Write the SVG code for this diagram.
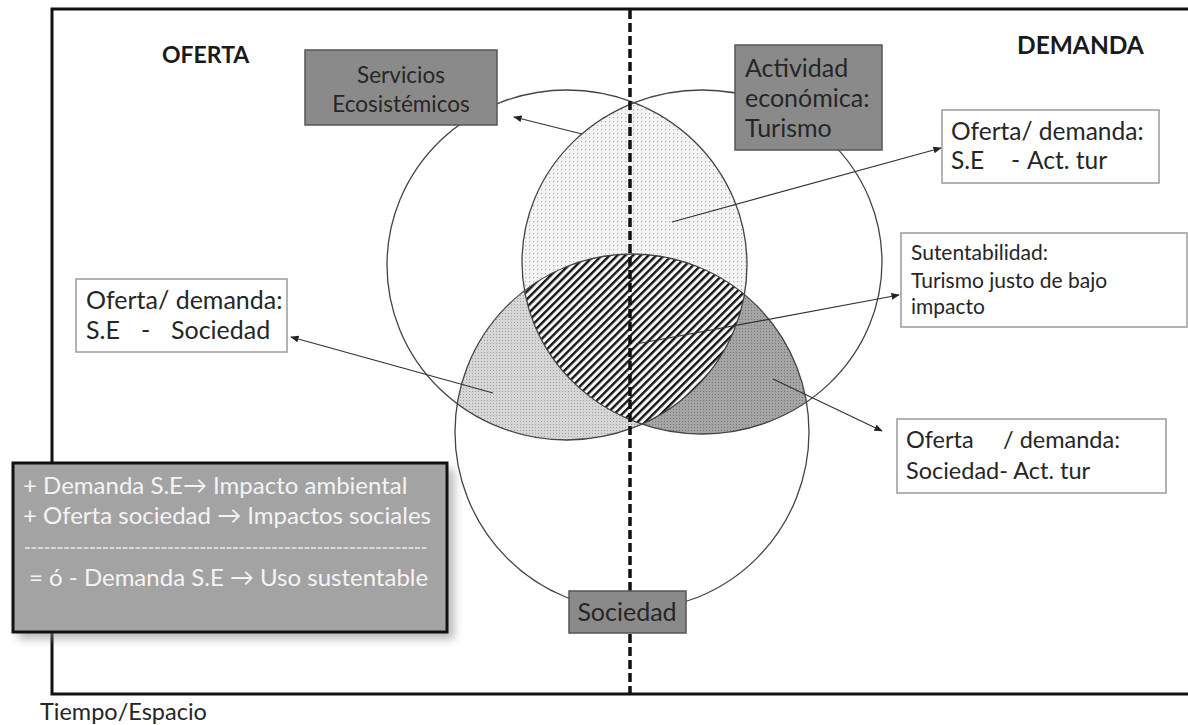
<svg xmlns="http://www.w3.org/2000/svg" width="1188" height="725" viewBox="0 0 1188 725" xml:space="preserve">
<style>
.t{font-family:Lato,"Liberation Sans",sans-serif;fill:#262626}
.b{font-weight:bold;fill:#1a1a1a}
.w{fill:#f4f4f4}
.gbox{fill:#8a8a8a;stroke:#555;stroke-width:1.5}
.wbox{fill:#fff;stroke:#9a9a9a;stroke-width:1.5}
.circ{fill:none;stroke:#444;stroke-width:1.3}
.conn{fill:none;stroke:#333;stroke-width:1.2;marker-end:url(#ah)}
</style>
<defs>
<pattern id="dotsLight" width="4" height="4" patternUnits="userSpaceOnUse">
<rect width="4" height="4" fill="#f4f4f4"/><rect x="1" y="1" width="1.2" height="1.2" fill="#b0b0b0"/>
</pattern>
<pattern id="dotsMid" width="3" height="3" patternUnits="userSpaceOnUse">
<rect width="3" height="3" fill="#d6d6d6"/><rect x="1" y="1" width="1" height="1" fill="#a0a0a0"/>
</pattern>
<pattern id="dotsDark" width="3" height="3" patternUnits="userSpaceOnUse">
<rect width="3" height="3" fill="#a5a5a5"/><rect x="1" y="1" width="1" height="1" fill="#777"/>
</pattern>
<pattern id="hatch" width="5.5" height="5.5" patternUnits="userSpaceOnUse" patternTransform="rotate(45)">
<rect width="5.5" height="5.5" fill="#fafafa"/><rect width="2.4" height="5.5" fill="#151515"/>
</pattern>
<clipPath id="clipL"><ellipse cx="567" cy="265" rx="180" ry="175"/></clipPath>
<clipPath id="clipR"><ellipse cx="702" cy="262" rx="180" ry="172"/></clipPath>
<marker id="ah" viewBox="0 0 10 10" refX="9" refY="5" markerWidth="7" markerHeight="7" orient="auto">
<path d="M0,1 L10,5 L0,9 z" fill="#222"/>
</marker>
<filter id="shadow" x="-10%" y="-10%" width="130%" height="130%">
<feGaussianBlur stdDeviation="5"/>
</filter>
</defs>
<rect width="1188" height="725" fill="#fff"/>
<g id="frame">
<rect x="52" y="9" width="1145" height="685" fill="none" stroke="#111" stroke-width="3"/>
</g>
<g id="venn">
<g clip-path="url(#clipL)"><ellipse cx="702" cy="262" rx="180" ry="172" fill="url(#dotsLight)"/></g>
<g clip-path="url(#clipL)"><ellipse cx="632" cy="432" rx="177" ry="178" fill="url(#dotsMid)"/></g>
<g clip-path="url(#clipR)"><ellipse cx="632" cy="432" rx="177" ry="178" fill="url(#dotsDark)"/></g>
<g clip-path="url(#clipL)"><g clip-path="url(#clipR)"><ellipse cx="632" cy="432" rx="177" ry="178" fill="url(#hatch)"/></g></g>
<ellipse class="circ" cx="567" cy="265" rx="180" ry="175"/>
<ellipse class="circ" cx="702" cy="262" rx="180" ry="172"/>
<ellipse class="circ" cx="632" cy="432" rx="177" ry="178"/>
</g>
<line id="divider" x1="630" y1="10" x2="630" y2="693" stroke="#111" stroke-width="3.5" stroke-dasharray="9 4"/>
<g id="connectors">
<line class="conn" x1="582" y1="134" x2="514" y2="117"/>
<line class="conn" x1="672" y1="222" x2="941" y2="148"/>
<line class="conn" x1="493" y1="393" x2="291" y2="337"/>
<line class="conn" x1="636" y1="344" x2="899" y2="295"/>
<line class="conn" x1="773" y1="379" x2="882" y2="431"/>
</g>
<g id="oferta"><text class="t b" x="162" y="63" font-size="23">OFERTA</text></g>
<g id="demanda"><text class="t b" x="1017" y="54" font-size="24.5">DEMANDA</text></g>
<g id="servicios">
<rect class="gbox" x="305" y="50" width="192" height="75"/>
<text class="t" font-size="22.5" text-anchor="middle"><tspan x="401" y="83">Servicios</tspan><tspan x="401" y="112">Ecosistémicos</tspan></text>
</g>
<g id="actividad">
<rect class="gbox" x="735" y="45" width="147" height="105" fill="#808080"/>
<text class="t" font-size="25"><tspan x="745" y="77">Actividad</tspan><tspan x="745" y="107">económica:</tspan><tspan x="745" y="137">Turismo</tspan></text>
</g>
<g id="se-act">
<rect class="wbox" x="942" y="110" width="217" height="73"/>
<text class="t" font-size="24.5"><tspan x="951" y="140">Oferta/ demanda:</tspan></text>
<text class="t" font-size="24.5" y="169"><tspan x="951">S.E</tspan><tspan x="1011">-</tspan><tspan x="1027">Act. tur</tspan></text>
</g>
<g id="sutentabilidad">
<rect class="wbox" x="901" y="233" width="286" height="94"/>
<text class="t" font-size="21"><tspan x="911" y="260">Sutentabilidad:</tspan><tspan x="911" y="288">Turismo justo de bajo</tspan><tspan x="911" y="314">impacto</tspan></text>
</g>
<g id="soc-act">
<rect class="wbox" x="897" y="419" width="269" height="74"/>
<text class="t" font-size="23.5" y="448"><tspan x="906">Oferta</tspan><tspan x="1003">/ demanda:</tspan></text>
<text class="t" font-size="23.5" x="906" y="479">Sociedad- Act. tur</text>
</g>
<g id="se-soc">
<rect class="wbox" x="76" y="279" width="211" height="73"/>
<text class="t" font-size="25" x="86" y="309">Oferta/ demanda:</text>
<text class="t" font-size="25" y="339"><tspan x="86">S.E</tspan><tspan x="141">-</tspan><tspan x="171">Sociedad</tspan></text>
</g>
<g id="resumen">
<rect x="18" y="469" width="436" height="170" fill="#888" opacity="0.6" filter="url(#shadow)"/>
<rect x="13" y="463" width="434" height="169" fill="#a3a3a3" stroke="#111" stroke-width="3"/>
<text class="t w" font-size="24" x="23" y="494">+ Demanda S.E→ Impacto ambiental</text>
<text class="t w" font-size="24" x="23" y="524">+ Oferta sociedad → Impactos sociales</text>
<line x1="25" y1="548" x2="428" y2="548" stroke="#ececec" stroke-width="1.5" stroke-dasharray="5 1.5"/>
<text class="t w" font-size="24" x="29" y="586">= ó - Demanda S.E → Uso sustentable</text>
</g>
<g id="sociedad">
<rect class="gbox" x="569" y="591" width="117" height="42"/>
<text class="t" font-size="25" x="627" y="621" text-anchor="middle">Sociedad</text>
</g>
<g id="tiempo"><text class="t" font-size="23.5" x="40" y="720" fill="#333">Tiempo/Espacio</text></g>
</svg>
